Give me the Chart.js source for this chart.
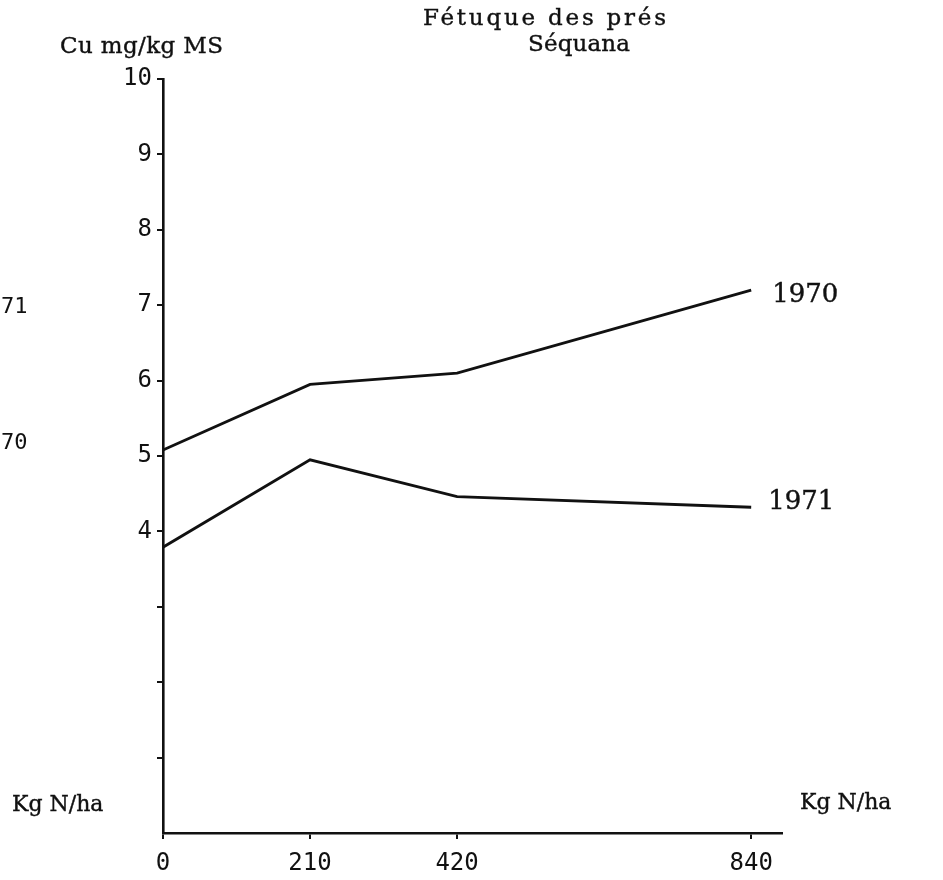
<!DOCTYPE html>
<html>
<head>
<meta charset="utf-8">
<title>Fétuque des prés — Séquana</title>
<script src="https://cdn.jsdelivr.net/npm/chart.js@4.4.0/dist/chart.umd.min.js"></script>
<style>
  html, body { margin: 0; padding: 0; background: #fff; }
  #wrap { width: 943px; height: 880px; }
</style>
</head>
<body>
<div id="wrap"><canvas id="cv" width="943" height="880"></canvas></div>
<script>
/* Cu content vs N dose — Fétuque des prés, Séquana */
const doses   = [0, 210, 420, 840];          // Kg N/ha
const cu1970  = [5.08, 5.95, 6.10, 7.20];    // Cu mg/kg MS
const cu1971  = [3.79, 4.95, 4.46, 4.32];
const xTicks  = [0, 210, 420, 840];
const yLabelled = [4, 5, 6, 7, 8, 9, 10];    // ticks 1..3 have no number

const INK = '#111';
const serif = 'DejaVu Serif';
const gothic = 'DejaVu Sans Mono';

function pts(ys) { return doses.map((d, i) => ({ x: d, y: ys[i] })); }

// free text around the plot, spread out to the typewriter pitch of the scan
const textPlugin = {
  id: 'notes',
  afterDraw(chart) {
    const ctx = chart.ctx;
    const put = (txt, x, y, font, width, heavy) => {
      ctx.save();
      ctx.font = font;
      ctx.fillStyle = INK;
      ctx.strokeStyle = INK;
      ctx.textBaseline = 'middle';
      ctx.textAlign = 'left';
      if (width && 'letterSpacing' in ctx) {
        ctx.letterSpacing = '0px';
        const w = ctx.measureText(txt).width;
        const n = [...txt].length;
        ctx.letterSpacing = Math.max(0, (width - w) / (n - 1)) + 'px';
      }
      ctx.fillText(txt, x, y);
      if (heavy) { ctx.lineWidth = heavy; ctx.strokeText(txt, x, y); }
      ctx.restore();
    };
    const tw = (px) => px + 'px "' + serif + '"';
    put('Fétuque des prés', 423, 19, tw(23), 243, 0.4);
    put('Séquana', 528, 45, tw(23), 102, 0.4);
    put('Cu mg/kg MS', 60, 47, tw(23), 163, 0.4);

    // series names at the line ends
    const xs = chart.scales.x, ys = chart.scales.y;
    const last = doses.length - 1;
    put('1970', xs.getPixelForValue(doses[last]) + 21, ys.getPixelForValue(cu1970[last]) + 5, tw(26), 63, 0.4);
    put('1971', xs.getPixelForValue(doses[last]) + 17, ys.getPixelForValue(cu1971[last]) - 5, tw(26), 61, 0.4);

    put('Kg N/ha', 800, 803, tw(22), 90, 0.4);
    put('Kg N/ha', 12, 805, tw(22), 88, 0.4);

    // cut-off labels of the neighbouring graph
    put('71', 1, 307, '22px "' + gothic + '"', 0, 0);
    put('70', 1, 443, '22px "' + gothic + '"', 0, 0);
  }
};

const lineStyle = { borderColor: INK, borderWidth: 2.8, pointRadius: 0, tension: 0, fill: false };

new Chart(document.getElementById('cv').getContext('2d'), {
  type: 'line',
  data: {
    datasets: [
      Object.assign({ label: '1970', data: pts(cu1970) }, lineStyle),
      Object.assign({ label: '1971', data: pts(cu1971) }, lineStyle),
    ],
  },
  options: {
    responsive: false,
    animation: false,
    layout: { padding: { top: 79, right: 161, bottom: 0, left: 0 } },
    plugins: { legend: { display: false }, tooltip: { enabled: false }, title: { display: false } },
    scales: {
      x: {
        type: 'linear', min: 0, max: 884,
        afterBuildTicks: (s) => { s.ticks = xTicks.map(v => ({ value: v })); },
        afterFit: (s) => { s.height = 47; },
        border: { color: INK, width: 2.6 },
        grid: { drawOnChartArea: false, drawTicks: true, tickLength: 6, color: INK, lineWidth: 2 },
        ticks: { color: INK, padding: 10, maxRotation: 0, font: { family: gothic, size: 24 }, callback: (v) => v },
      },
      y: {
        type: 'linear', min: 0, max: 10,
        afterBuildTicks: (s) => { s.ticks = [1,2,3,4,5,6,7,8,9,10].map(v => ({ value: v })); },
        afterFit: (s) => { s.width = 163; },
        border: { color: INK, width: 2.6 },
        grid: { drawOnChartArea: false, drawTicks: true, tickLength: 6, color: INK, lineWidth: 2 },
        ticks: {
          color: INK, padding: 5, font: { family: gothic, size: 24 },
          callback: (v) => (yLabelled.indexOf(v) >= 0 ? String(v) : ''),
        },
      },
    },
  },
  plugins: [textPlugin],
});
</script>
</body>
</html>
